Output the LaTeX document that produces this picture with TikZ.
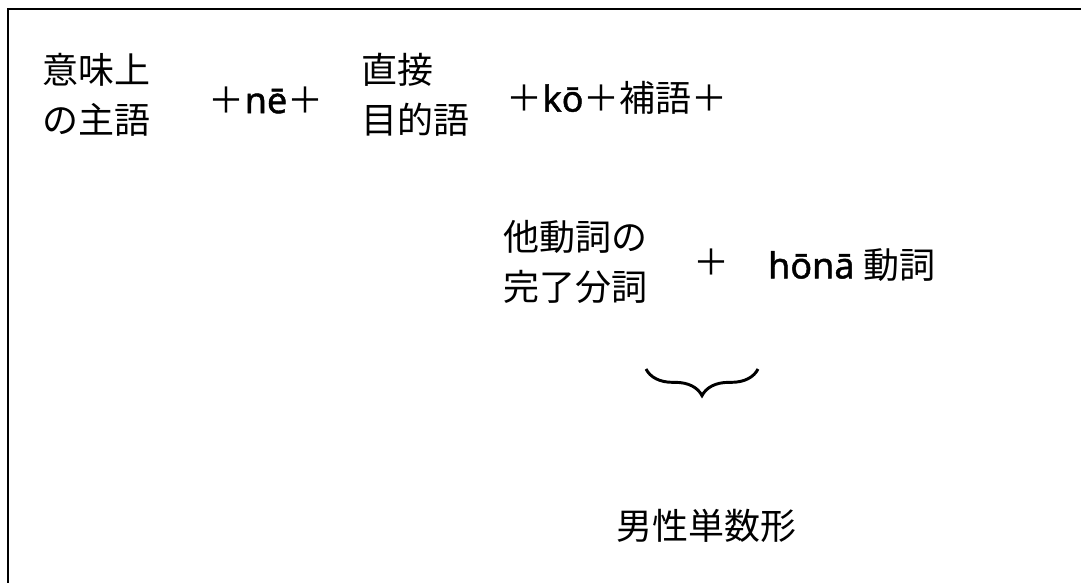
\documentclass[tikz,border=0pt]{standalone}
\usepackage{fontspec}
\setmainfont[FakeBold=1.2]{Noto Sans}
\newfontfamily\jp{Noto Sans CJK JP}
\usepackage{tikz}
\usetikzlibrary{decorations.pathreplacing}
\newcommand{\jplus}{{\jp ＋}}
\tikzset{
  term/.style={inner sep=0.75pt, align=left, font=\fontsize{27}{37.5}\selectfont},
}

\begin{document}
\begin{tikzpicture}[x=0.75pt,y=0.75pt,yscale=-1,xscale=1]
    \useasboundingbox (0,0) rectangle (1081,583);
    % frame
    \draw [line width=2pt] (1081,9) -- (8,9) -- (8,583);
    % first row
    \node [term] (subj) at (96,95) {\jp 意味上\\\jp の主語};
    \node [term] (ne) at (266,100) {\jplus \textbf{n\={e}}\jplus};
    \node [term] (obj) at (415,95) {\jp 直接\\\jp 目的語};
    \node [term] (ko) at (617,98) {\jplus \textbf{k\={o}}\jplus{\jp 補語}\jplus};
    % second row
    \node [term] (part) at (575,262) {\jp 他動詞の\\\jp 完了分詞};
    \node [term] (plus) at (711,262) {\jplus};
    \node [term] (hona) at (852,265) {\textbf{h\={o}n\={a}} {\jp 動詞}};
    % brace and note
    \coordinate (bl) at (646,369);
    \coordinate (br) at (758,369);
    \draw [line width=2.2pt, decorate, decoration={brace, amplitude=20pt}] (br) -- (bl);
    \node [term] (msg) at (706,526) {\jp 男性単数形};
\end{tikzpicture}
\end{document}
